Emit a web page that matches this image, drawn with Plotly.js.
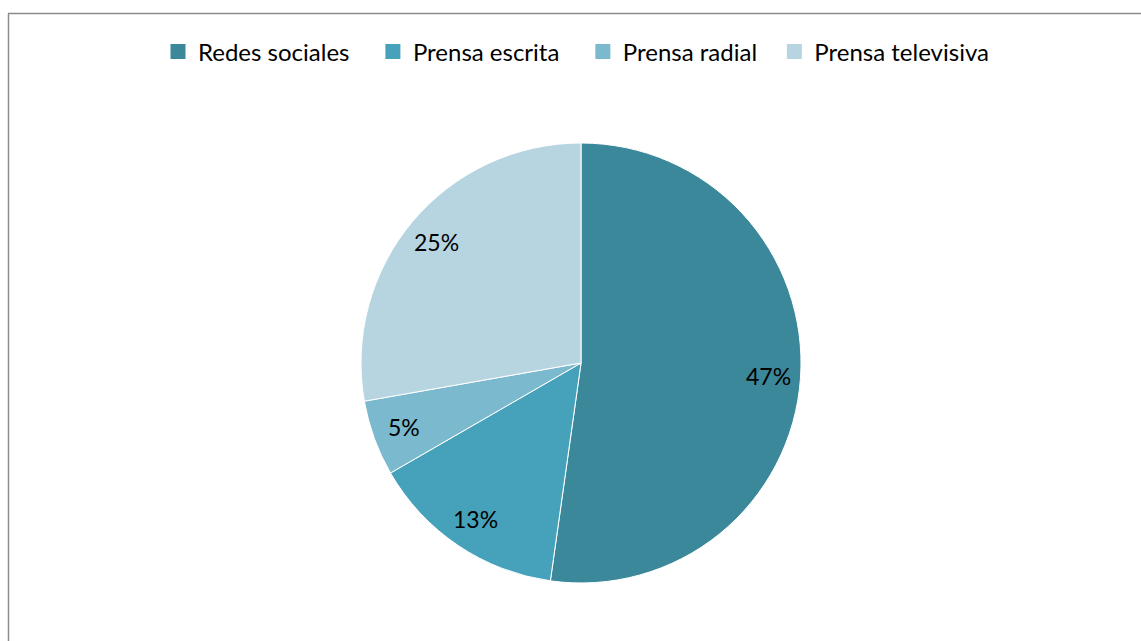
<!DOCTYPE html>
<html><head><meta charset="utf-8">
<script src="https://cdn.plot.ly/plotly-3.0.1.min.js"></script>
<style>html,body{margin:0;padding:0;background:#fff}#chart{width:1141px;height:641px}</style>
</head><body><div id="chart"></div>
<script>
const categories = ["Redes sociales", "Prensa escrita", "Prensa radial", "Prensa televisiva"];
const values = [47, 13, 5, 25];
const colors = ["#3A8899", "#46A2BA", "#7BBACE", "#B7D5E0"];
const legendPad = [3, 3, 2, 0];
const W = 1141, H = 641;
const cx = 581, cy = 363, r = 220;
const FONT = "Lato, 'Open Sans', sans-serif";
const NB = "\u00a0";

const pie = {
  type: "pie",
  labels: categories,
  values: values,
  sort: false,
  direction: "clockwise",
  rotation: 0,
  showlegend: false,
  marker: {colors: colors, line: {color: "#ffffff", width: 1}},
  textinfo: "none",
  hoverinfo: "label+value",
  domain: {x: [(cx - 300) / W, (cx + 300) / W], y: [(H - cy - r) / H, (H - cy + r) / H]}
};

// legend entries (square swatches) for each category
const legendTraces = categories.map((c, i) => ({
  type: "scatter", mode: "markers",
  x: [null], y: [null],
  name: c + NB.repeat(legendPad[i]),
  marker: {symbol: "square", size: 15, color: colors[i]},
  showlegend: true, hoverinfo: "skip"
}));

// data labels placed along each slice's bisector
const total = values.reduce((a, b) => a + b, 0);
let cum = 0;
const annotations = values.map(v => {
  const mid = (cum + v / 2) / total * 2 * Math.PI;
  cum += v;
  const d = 0.855 * r;
  return {
    xref: "paper", yref: "paper",
    x: (cx + d * Math.sin(mid)) / W,
    y: 1 - (cy - d * Math.cos(mid)) / H,
    xanchor: "center", yanchor: "middle",
    text: v + "%", showarrow: false,
    font: {family: FONT, size: 23, color: "#000000"}
  };
});

const layout = {
  width: W, height: H,
  margin: {l: 0, r: 0, t: 0, b: 0},
  paper_bgcolor: "#ffffff",
  plot_bgcolor: "rgba(0,0,0,0)",
  xaxis: {visible: false, domain: [0, 0.01]},
  yaxis: {visible: false, domain: [0, 0.01]},
  showlegend: true,
  legend: {
    orientation: "h", x: 158 / W, xanchor: "left", y: 1 - 52 / H, yanchor: "middle",
    font: {family: FONT, size: 24, color: "#000000"},
    traceorder: "normal", itemsizing: "trace"
  },
  annotations: annotations,
  shapes: [
    {type: "line", xref: "paper", yref: "paper", x0: 8 / W, x1: 1, y0: 1 - 13.5 / H, y1: 1 - 13.5 / H, line: {color: "#8c8c8c", width: 1.5}},
    {type: "line", xref: "paper", yref: "paper", x0: 8.5 / W, x1: 8.5 / W, y0: 0, y1: 1 - 13.5 / H, line: {color: "#8c8c8c", width: 1.5}}
  ]
};
Plotly.newPlot("chart", [pie].concat(legendTraces), layout, {displayModeBar: false, staticPlot: true});
</script></body></html>
